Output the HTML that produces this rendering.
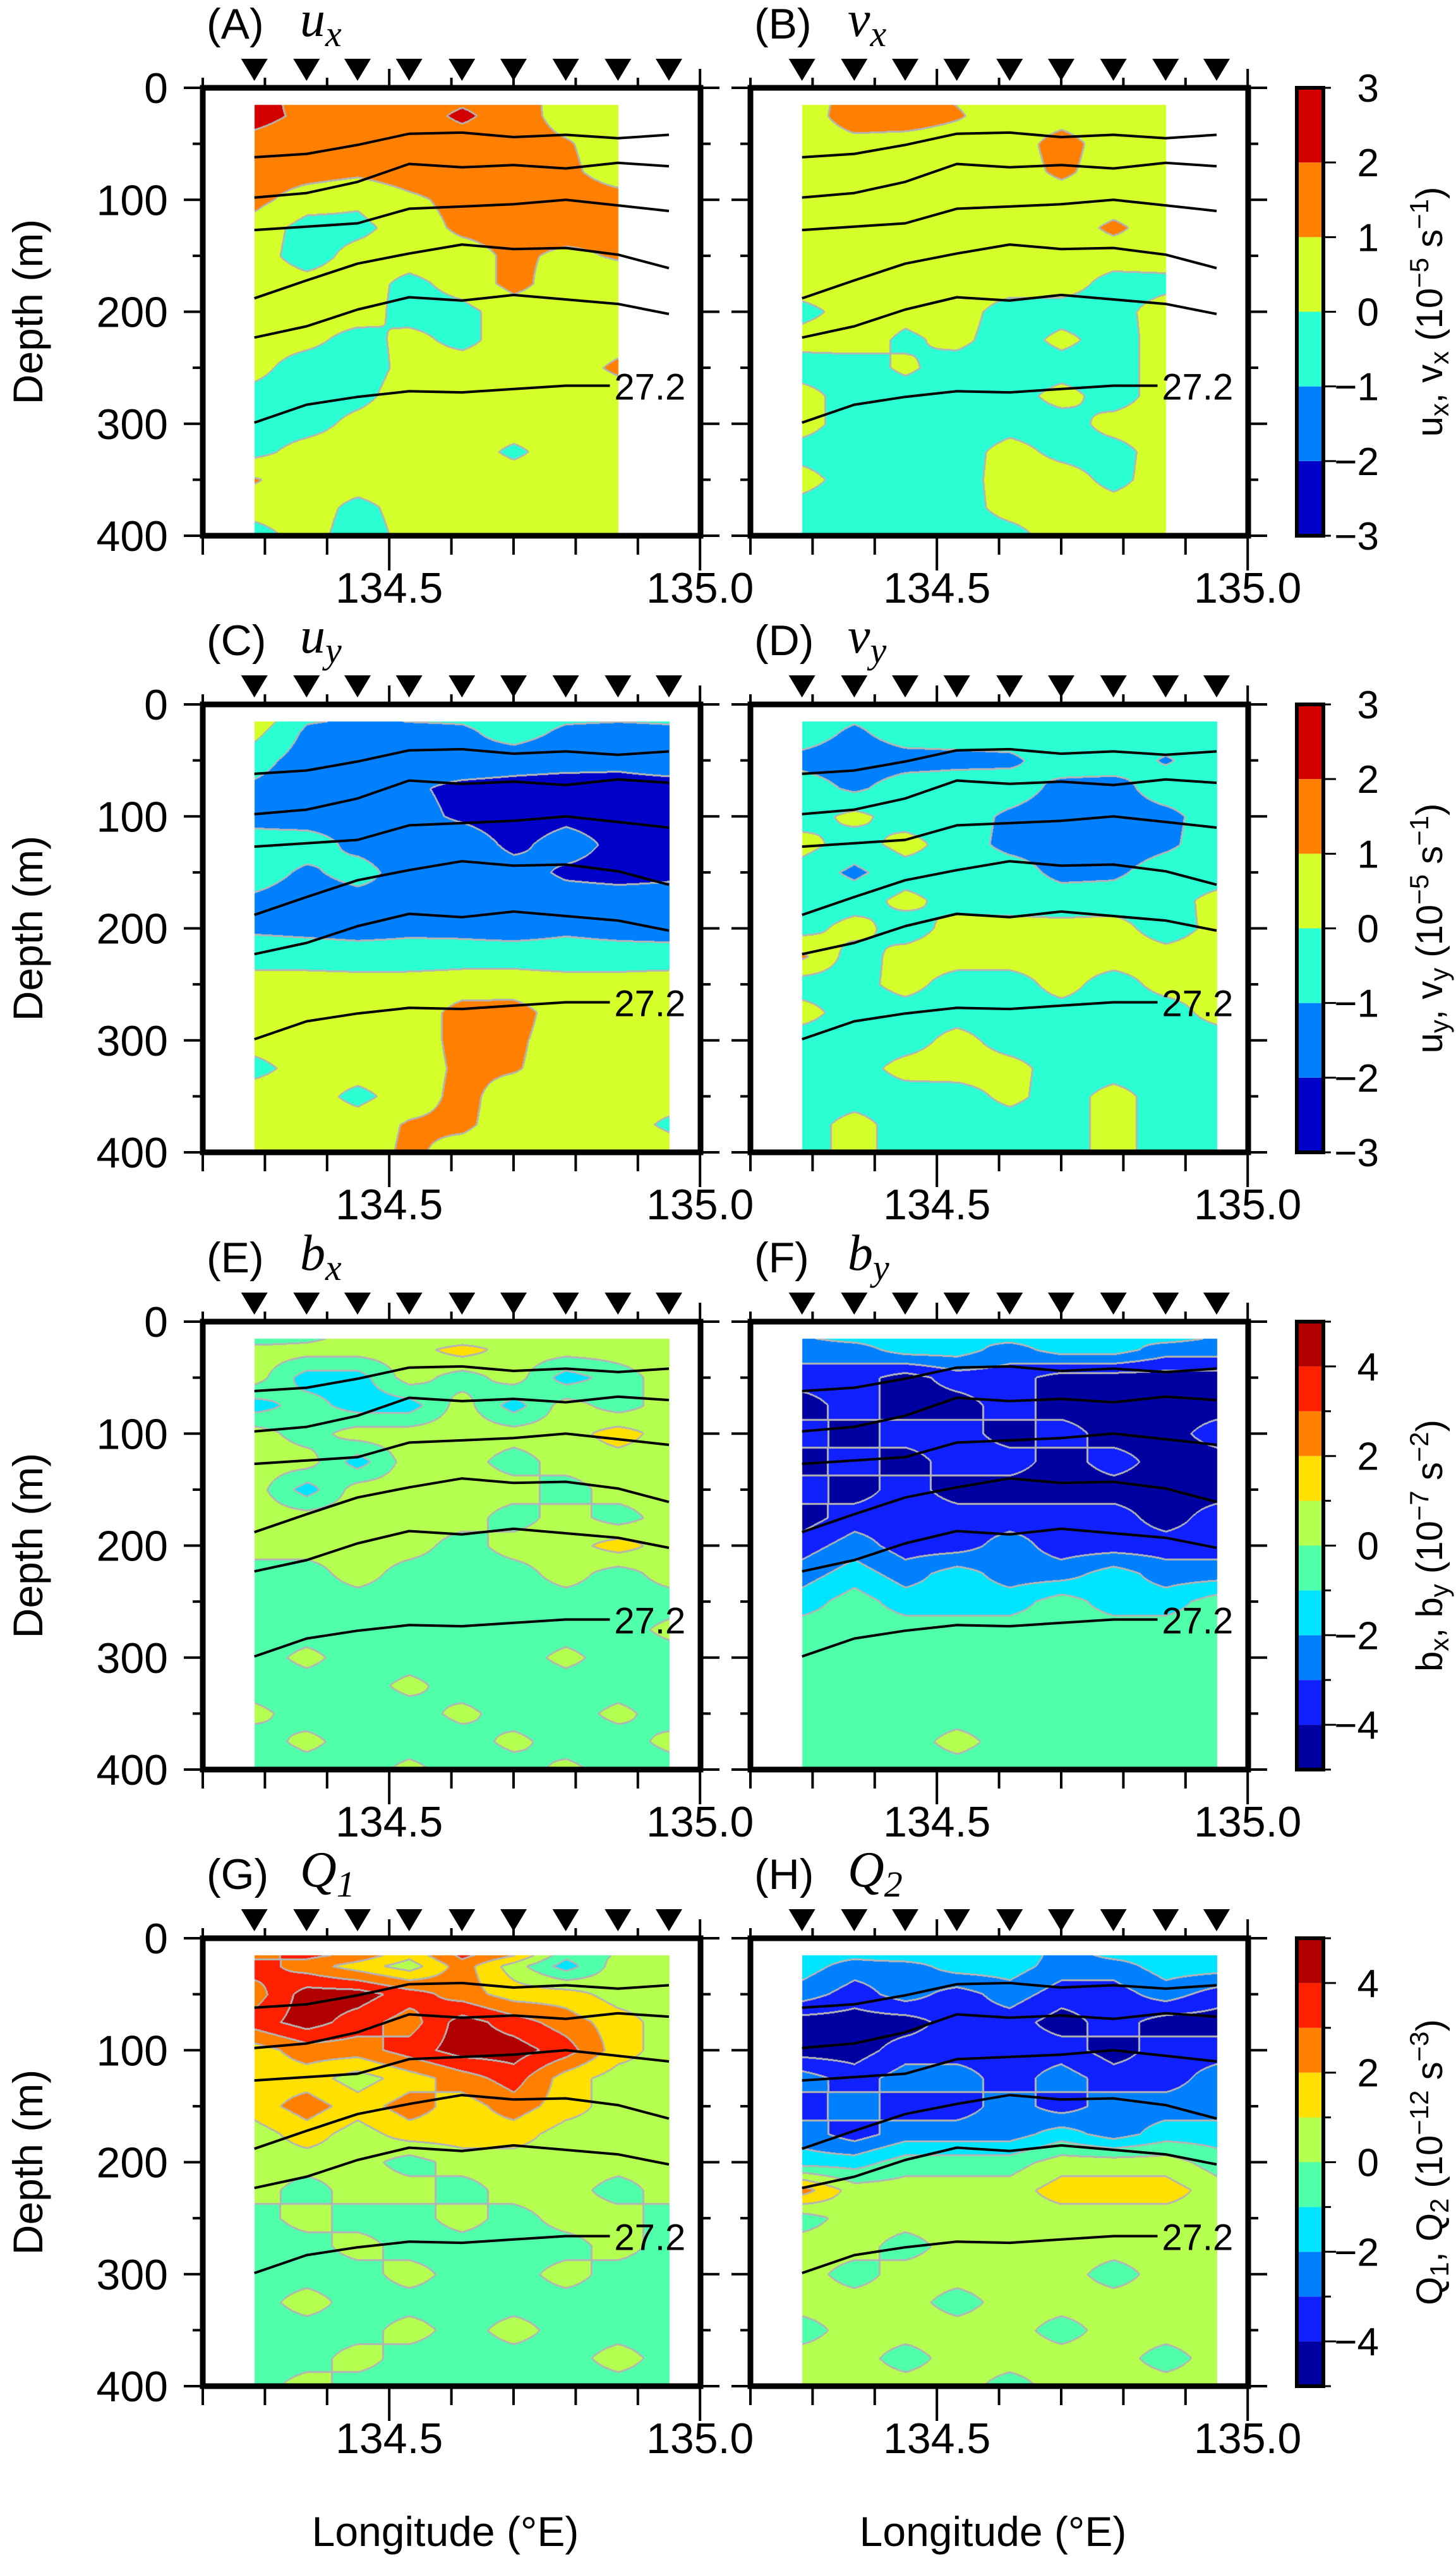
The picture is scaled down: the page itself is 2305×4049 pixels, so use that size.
<!DOCTYPE html>
<html><head><meta charset="utf-8">
<style>
html,body{margin:0;padding:0;background:#fff;}
#wrap{position:relative;width:2305px;height:4049px;overflow:hidden;background:#fff;}
canvas{position:absolute;}
svg{position:absolute;left:0;top:0;}
text{font-family:"Liberation Sans",sans-serif;}
</style></head>
<body>
<div id="wrap">
<svg id="svg" width="2305" height="4049" viewBox="0 0 2305 4049"></svg>
</div>
<script>
// ---------- data ----------
const stationLon = [134.283,134.367,134.449,134.532,134.617,134.700,134.784,134.868,134.950];
const depthLevels = [0,25,50,75,100,125,150,175,200,225,250,275,300,325,350,375,400];
const xTickLabels = ["134.5","135.0"];
const yTickLabels = ["0","100","200","300","400"];
const velTicks = [3,2,1,0,-1,-2,-3];
const bTicks = [4,2,0,-2,-4];
const velColors = ["#0000c8","#0080ff","#2affd4","#d4ff2a","#ff8000","#d40000"];
const bColors = ["#0000a0","#1020ff","#0080ff","#00e5ff","#50ffaa","#b4ff50","#ffe000","#ff8000","#ff2000","#b00000"];
const isoLabel = "27.2";
const iso1 = [62,59,51,41,40,44,42,45,42];
const iso2 = [98,94,84,68,71,69,72,67,70];
const iso3 = [127,124,121,108,106,104,100,105,110];
const iso4 = [188,172,157,148,140,144,143,149,161];
const iso5 = [223,213,198,187,190,185,189,193,202];
const iso6 = [299,283,276,271,272,269,266,266];
const ux = [
[2.5,1.5,1.5,1.5,1.5,1.5,0.5,0.5,0.5],
[2.3,1.8,1.5,1.5,2.2,1.5,0.6,0.5,0.5],
[1.7,1.5,1.5,1.5,1.5,1.4,1.1,0.5,0.5],
[1.5,1.4,1.2,1.5,1.5,1.5,1.2,0.6,0.5],
[1.3,0.5,0.2,0.8,1.3,1.5,1.4,1.3,0.6],
[0.6,-0.4,-0.3,0.5,1.2,1.3,1.4,1.2,0.6],
[0.5,-0.5,0.4,0.5,0.6,1.2,0.8,1.1,0.5],
[0.5,0.4,0.5,-0.3,0.4,1.3,0.5,0.5,0.5],
[0.5,0.5,0.5,-0.4,-0.3,0.5,0.5,0.5,0.5],
[0.4,0.3,-0.4,0.3,-0.3,0.5,0.5,0.6,0.5],
[0.3,-0.5,-0.5,0.3,0.5,0.5,0.5,1.2,0.5],
[-0.3,-0.5,-0.3,0.5,0.5,0.5,0.5,0.5,0.5],
[-0.5,-0.4,0.3,0.5,0.5,0.5,0.5,0.5,0.5],
[-0.3,0.4,0.5,0.5,0.5,-0.2,0.5,0.5,0.5],
[1.1,0.4,0.5,0.5,0.5,0.5,0.5,0.5,0.5],
[0.4,0.5,-0.3,0.4,0.5,0.5,0.5,0.5,0.5],
[-0.4,0.4,-0.5,0.3,0.5,0.5,0.5,0.5,0.5]];
const vx = [
[0.5,1.3,1.4,0.8,0.5,0.5,0.5,0.5,0.5],
[0.5,1.5,1.5,1.1,0.5,0.6,0.5,0.5,0.5],
[0.5,0.7,0.6,0.5,0.5,1.4,0.5,0.5,0.5],
[0.5,0.5,0.5,0.5,0.5,1.2,0.5,0.3,0.5],
[0.5,0.5,0.5,0.5,0.5,0.5,0.5,0.3,0.5],
[0.4,0.5,0.5,0.5,0.5,0.5,1.2,0.5,0.5],
[0.5,0.5,0.5,0.5,0.5,0.5,0.5,0.5,0.5],
[0.5,0.5,0.2,0.5,0.5,0.5,-0.4,-0.3,0.5],
[-0.3,0.4,0.3,0.5,-0.5,-0.5,-0.4,0.5,0.5],
[0.4,0.5,-0.2,0.3,-0.6,0.3,-0.5,0.5,0.5],
[-0.5,-0.5,0.2,-0.5,-0.6,-0.5,-0.5,0.5,0.5],
[0.4,-0.5,-0.5,-0.6,-0.5,0.4,-0.5,0.5,0.5],
[0.4,-0.5,-0.6,-0.6,-0.4,-0.5,0.4,0.5,0.5],
[-0.4,-0.5,-0.5,-0.5,0.4,-0.3,-0.4,0.5,0.5],
[0.4,-0.5,-0.6,-0.5,0.5,0.5,-0.3,0.5,0.5],
[-0.4,-0.6,-0.5,-0.5,0.4,0.5,0.4,0.5,0.5],
[-0.5,-0.6,-0.6,-0.5,-0.4,0.5,0.4,0.5,0.5]];
const uy = [
[1.2,-0.5,-0.5,-0.5,-0.5,-0.5,-0.5,-0.5,-0.5],
[0.3,-1.2,-1.5,-1.3,-1.2,-0.6,-1.2,-1.3,-1.2],
[-0.6,-1.5,-1.5,-1.5,-1.3,-1.5,-1.6,-1.8,-1.6],
[-1.2,-1.5,-1.5,-1.8,-2.3,-2.4,-2.5,-2.3,-2.3],
[-1.3,-1.5,-1.4,-1.6,-2.2,-2.6,-2.3,-2.5,-2.6],
[-0.6,-0.5,-1.3,-1.5,-1.3,-2.3,-1.5,-2.3,-2.4],
[-0.5,-1.2,-0.6,-1.5,-1.4,-1.5,-2.2,-2.4,-2.2],
[-1.2,-1.5,-1.4,-1.2,-1.4,-1.5,-1.5,-1.5,-1.6],
[-1.2,-1.3,-1.4,-1.2,-1.3,-1.5,-1.2,-1.4,-1.5],
[-0.3,-0.4,-0.5,-0.6,-0.5,-0.4,-0.5,-0.5,-0.5],
[0.3,0.4,0.4,0.5,0.6,0.5,0.4,0.4,0.5],
[0.5,0.5,0.5,0.5,1.3,1.4,0.5,0.5,0.5],
[0.4,0.5,0.5,0.5,1.3,1.2,0.5,0.5,0.4],
[-0.3,0.4,0.5,0.5,1.2,1.1,0.5,0.5,0.5],
[0.5,0.5,-0.3,0.5,1.3,0.5,0.5,0.4,0.5],
[0.4,0.4,0.5,1.1,1.2,0.5,0.5,0.5,-0.2],
[0.5,0.5,0.5,1.2,0.6,0.5,0.5,0.5,0.5]];
const vy = [
[-0.5,-0.5,-0.5,-0.5,-0.5,-0.5,-0.5,-0.5,-0.5],
[-0.5,-1.2,-0.5,-0.5,-0.5,-0.5,-0.5,-0.5,-0.4],
[-1.3,-1.5,-1.4,-1.3,-1.2,-0.5,-0.5,-1.1,-0.5],
[-0.5,-1.2,-0.5,-0.4,-0.5,-1.3,-1.4,-0.5,-0.5],
[-0.5,0.3,-0.5,-0.5,-1.2,-1.5,-1.4,-1.3,-0.5],
[0.4,-0.5,0.4,-0.5,-1.3,-1.4,-1.5,-1.2,-0.5],
[-0.5,-1.2,-0.5,-0.5,-0.5,-1.3,-1.2,-0.5,-0.5],
[-0.5,-0.5,0.3,-0.4,-0.5,-0.5,-0.5,-0.4,0.3],
[-0.4,0.4,-0.5,0.4,0.4,0.3,0.4,-0.5,0.3],
[1.2,-0.5,0.4,0.5,0.5,0.4,0.5,0.4,0.5],
[-0.5,-0.4,0.4,-0.5,-0.5,0.4,-0.5,0.4,0.4],
[0.4,-0.5,-0.5,-0.5,-0.5,-0.4,-0.5,-0.5,0.4],
[-0.5,-0.5,-0.5,0.4,-0.5,-0.5,-0.5,-0.4,-0.5],
[-0.5,-0.5,0.4,0.5,0.4,-0.5,-0.5,-0.5,-0.5],
[-0.5,-0.5,-0.5,-0.5,0.3,-0.5,0.4,-0.5,-0.5],
[-0.5,0.4,-0.5,-0.5,-0.5,-0.5,0.4,-0.5,-0.5],
[-0.5,0.4,-0.5,-0.5,-0.5,-0.5,0.4,-0.5,-0.5]];
const bx = [
[-2.5,-1.5,0.5,-0.5,-1.5,0.5,-0.5,0.5,0.5],
[0.5,0.5,0.5,0.5,1.5,0.5,0.5,0.5,0.5],
[0.5,-1.5,-1.5,0.5,-0.5,0.5,-1.5,-0.5,0.5],
[-1.5,-0.5,-1.5,-1.5,0.5,-1.5,0.5,-0.5,0.5],
[0.5,-0.5,0.5,0.5,0.5,0.5,0.5,1.5,0.5],
[0.5,0.5,-1.5,0.5,0.5,-0.5,0.5,0.5,0.5],
[0.5,-1.5,0.5,0.5,0.5,0.5,-0.5,0.5,0.5],
[0.5,0.5,0.5,0.5,0.5,-0.5,0.5,-0.5,0.5],
[0.5,0.5,0.5,0.5,-0.5,0.5,0.5,1.5,0.5],
[-0.5,-0.5,0.5,-0.5,-0.5,-0.5,0.5,-0.5,0.5],
[-0.5,-0.5,-0.5,-0.5,-0.5,-0.5,-0.5,-0.5,-0.5],
[-0.5,-0.5,-0.5,-0.5,-0.5,-0.5,-0.5,-0.5,0.3],
[-0.5,0.3,-0.5,-0.5,-0.5,-0.5,0.3,-0.5,-0.5],
[-0.5,-0.5,-0.5,0.3,-0.5,-0.5,-0.5,-0.5,-0.5],
[0.3,-0.5,-0.5,-0.5,0.3,-0.5,-0.5,0.3,-0.5],
[-0.5,0.3,-0.5,-0.5,-0.5,0.3,-0.5,-0.5,0.3],
[-0.5,-0.5,-0.5,0.3,-0.5,-0.5,0.3,-0.5,-0.5]];
const by = [
[-1.5,-0.5,-1.5,-2.5,-0.5,-1.5,-2.5,-0.5,-1.5],
[-2.5,-2.5,-1.5,-1.5,-2.5,-1.5,-1.5,-2.5,-2.5],
[-3.5,-3.5,-4.5,-3.5,-3.5,-4.5,-4.5,-4.5,-4.5],
[-4.5,-3.5,-4.5,-4.5,-3.5,-4.5,-4.5,-4.5,-4.5],
[-3.5,-4.5,-3.5,-3.5,-4.5,-3.5,-4.5,-4.5,-3.5],
[-4.5,-3.5,-4.5,-3.5,-3.5,-4.5,-3.5,-4.5,-4.5],
[-3.5,-4.5,-3.5,-4.5,-4.5,-4.5,-4.5,-4.5,-4.5],
[-4.5,-3.5,-3.5,-3.5,-3.5,-3.5,-3.5,-4.5,-3.5],
[-3.5,-2.5,-3.5,-3.5,-2.5,-3.5,-3.5,-3.5,-3.5],
[-2.5,-1.5,-2.5,-1.5,-2.5,-2.5,-1.5,-2.5,-2.5],
[-1.5,-0.5,-1.5,-1.5,-1.5,-0.5,-1.5,-1.5,-0.5],
[-0.5,-0.5,-0.5,-0.5,-0.5,-0.5,-0.5,-0.5,-0.5],
[-0.5,-0.5,-0.5,-0.5,-0.5,-0.5,-0.5,-0.5,-0.5],
[-0.5,-0.5,-0.5,-0.5,-0.5,-0.5,-0.5,-0.5,-0.5],
[-0.5,-0.5,-0.5,-0.5,-0.5,-0.5,-0.5,-0.5,-0.5],
[-0.5,-0.5,-0.5,0.4,-0.5,-0.5,-0.5,-0.5,-0.5],
[-0.5,-0.5,-0.5,-0.5,-0.5,-0.5,-0.5,-0.5,-0.5]];
const q1 = [
[1.5,4.5,4.5,2.5,4.5,4.5,0.5,-0.5,0.5],
[3.5,2.5,1.5,0.5,2.5,0.5,-1.5,0.5,0.5],
[2.5,4.5,4.5,3.5,2.5,1.5,1.5,0.5,0.5],
[3.5,4.5,3.5,2.5,4.5,3.5,2.5,1.5,0.5],
[1.5,2.5,2.5,3.5,4.5,4.5,3.5,1.5,0.5],
[1.5,1.5,0.5,1.5,2.5,3.5,1.5,0.5,0.5],
[1.5,2.5,1.5,2.5,1.5,2.5,1.5,0.5,0.5],
[0.5,1.5,0.5,1.5,1.5,1.5,0.5,0.5,0.5],
[0.5,0.5,0.5,-0.5,0.5,0.5,0.5,0.5,0.5],
[0.5,-0.5,0.5,0.5,-0.5,0.5,0.5,-0.5,0.5],
[-0.5,0.5,-0.5,-0.5,0.5,-0.5,0.5,0.5,-0.5],
[-0.5,-0.5,0.5,-0.5,-0.5,-0.5,-0.5,0.5,-0.5],
[-0.5,-0.5,-0.5,0.5,-0.5,-0.5,0.5,-0.5,-0.5],
[-0.5,0.5,-0.5,-0.5,-0.5,-0.5,-0.5,-0.5,-0.5],
[-0.5,-0.5,-0.5,0.5,-0.5,0.5,-0.5,-0.5,-0.5],
[-0.5,-0.5,0.5,-0.5,-0.5,-0.5,-0.5,0.5,-0.5],
[-0.5,0.5,-0.5,-0.5,-0.5,-0.5,-0.5,-0.5,-0.5]];
const q2 = [
[-1.5,-0.5,0.5,-1.5,-0.5,-2.5,-0.5,-1.5,-0.5],
[-1.5,-2.5,-2.5,-1.5,-1.5,-2.5,-2.5,-1.5,-1.5],
[-2.5,-3.5,-2.5,-3.5,-2.5,-3.5,-3.5,-2.5,-3.5],
[-4.5,-4.5,-4.5,-3.5,-3.5,-4.5,-3.5,-4.5,-4.5],
[-4.5,-4.5,-3.5,-3.5,-3.5,-3.5,-4.5,-3.5,-3.5],
[-2.5,-3.5,-2.5,-2.5,-3.5,-2.5,-3.5,-3.5,-2.5],
[-3.5,-2.5,-3.5,-3.5,-2.5,-3.5,-2.5,-2.5,-2.5],
[-2.5,-3.5,-2.5,-2.5,-2.5,-1.5,-2.5,-1.5,-1.5],
[-1.5,-1.5,-0.5,-0.5,-0.5,0.5,0.5,0.5,-0.5],
[2.5,0.5,0.5,0.5,0.5,1.5,1.5,1.5,0.5],
[-0.5,0.5,0.5,0.5,0.5,0.5,0.5,0.5,0.5],
[0.5,0.5,-0.5,0.5,0.5,0.5,0.5,0.5,0.5],
[0.5,-0.5,0.5,0.5,0.5,0.5,-0.5,0.5,0.5],
[0.5,0.5,0.5,-0.5,0.5,0.5,0.5,0.5,0.5],
[-0.5,0.5,0.5,0.5,0.5,-0.5,0.5,0.5,0.5],
[0.5,0.5,-0.5,0.5,0.5,0.5,0.5,-0.5,0.5],
[0.5,0.5,0.5,0.5,-0.5,0.5,0.5,0.5,0.5]];

// ---------- layout ----------
const NS = "http://www.w3.org/2000/svg";
const svg = document.getElementById('svg');
const wrap = document.getElementById('wrap');
const rowTops = [139,1115,2092,3068];
const colLefts = [321,1188];
const FW = 788, FH = 709;
const LON0 = 134.2, PXDEG = 984, PXM = FH/400;
function xs(lon, left){ return left + (lon-LON0)*PXDEG; }
function ys(d, top){ return top + d*PXM; }
function el(tag, attrs, parent){
  const e = document.createElementNS(NS, tag);
  for (const k in attrs) e.setAttribute(k, attrs[k]);
  (parent||svg).appendChild(e); return e;
}
const panels = [
 {id:'A', v:'u', s:'x', field:ux, last:8, row:0, col:0},
 {id:'B', v:'v', s:'x', field:vx, last:8, row:0, col:1},
 {id:'C', v:'u', s:'y', field:uy, last:9, row:1, col:0},
 {id:'D', v:'v', s:'y', field:vy, last:9, row:1, col:1},
 {id:'E', v:'b', s:'x', field:bx, last:9, row:2, col:0},
 {id:'F', v:'b', s:'y', field:by, last:9, row:2, col:1},
 {id:'G', v:'Q', s:'1', field:q1, last:9, row:3, col:0},
 {id:'H', v:'Q', s:'2', field:q2, last:9, row:3, col:1}];
const isos = [iso1,iso2,iso3,iso4,iso5,iso6];

function interp(field, lon, d){
  let i = 0;
  while (i < stationLon.length-2 && lon > stationLon[i+1]) i++;
  let fx = (lon-stationLon[i])/(stationLon[i+1]-stationLon[i]);
  fx = Math.max(0, Math.min(1, fx));
  let j = Math.min(depthLevels.length-2, Math.floor(d/25));
  let fy = (d-depthLevels[j])/(depthLevels[j+1]-depthLevels[j]);
  fy = Math.max(0, Math.min(1, fy));
  const a=field[j][i], b=field[j][i+1], c=field[j+1][i], e=field[j+1][i+1];
  return (a*(1-fx)+b*fx)*(1-fy) + (c*(1-fx)+e*fx)*fy;
}
function hex(c){ return [parseInt(c.slice(1,3),16),parseInt(c.slice(3,5),16),parseInt(c.slice(5,7),16)]; }

panels.forEach(p => {
  const top = rowTops[p.row], left = colLefts[p.col];
  const isVel = p.row < 2;
  const colors = (isVel ? velColors : bColors).map(hex);
  const vmin = isVel ? -3 : -5;
  const cv = document.createElement('canvas');
  cv.width = FW; cv.height = FH;
  cv.style.left = left+'px'; cv.style.top = top+'px';
  
  
  wrap.insertBefore(cv, svg);
  const ctx = cv.getContext('2d');
  const img = ctx.createImageData(FW, FH);
  const cls = new Int16Array(FW*FH).fill(-1);
  const lonMax = stationLon[p.last-1];
  for (let py=0; py<FH; py++){
    const d = py/PXM; if (d < 15) continue;
    for (let px=0; px<FW; px++){
      const lon = LON0 + px/PXDEG;
      if (lon < stationLon[0] || lon > lonMax) continue;
      const v = interp(p.field, lon, d);
      let k = Math.floor(v - vmin); k = Math.max(0, Math.min(colors.length-1, k));
      cls[py*FW+px] = k;
    }
  }
  for (let py=0; py<FH; py++){
    for (let px=0; px<FW; px++){
      const k = cls[py*FW+px]; if (k < 0) continue;
      let edge = false;
      for (const [dx,dy] of [[1,0],[-1,0],[0,1],[0,-1],[2,0],[0,2]]){
        const nx=px+dx, ny=py+dy;
        if (nx<0||ny<0||nx>=FW||ny>=FH) continue;
        const n = cls[ny*FW+nx];
        if (n >= 0 && n !== k) { edge = true; break; }
      }
      const o = (py*FW+px)*4;
      const c = edge ? [180,180,180] : colors[k];
      img.data[o]=c[0]; img.data[o+1]=c[1]; img.data[o+2]=c[2]; img.data[o+3]=255;
    }
  }
  ctx.putImageData(img, 0, 0);

  const g = el('g', {});
  
  

  isos.forEach((arr, n) => {
    let pts = arr.map((d,i) => {
      let lon = stationLon[i];
      if (n === 5 && i === arr.length-1) lon = 134.855;
      return xs(lon,left).toFixed(1)+','+ys(d,top).toFixed(1);
    }).join(' ');
    const pl = el('polyline', {points:pts, fill:'none', stroke:'#000', 'stroke-width':4, 'stroke-linejoin':'round'}, g);
    
    
  });
  const lt = el('text', {x:xs(134.862,left), y:ys(iso6[7],top)+22, 'font-size':58}, g);
  lt.textContent = isoLabel;
  
  

  const fr = el('rect', {x:left, y:top, width:FW, height:FH, fill:'none', stroke:'#000', 'stroke-width':9}, g);
  
  

  for (let t=0; t<=8; t++){
    const lon = LON0 + t*0.1;
    const x = xs(lon,left);
    const major = (t===3 || t===8);
    const L = major ? 55 : 30;
    el('line', {x1:x, y1:top+FH, x2:x, y2:top+FH+L, stroke:'#000', 'stroke-width':4}, g);
    el('line', {x1:x, y1:top, x2:x, y2:top-(major?30:16), stroke:'#000', 'stroke-width':4}, g);
  }
  xTickLabels.forEach(lbl => {
    const t = el('text', {x:xs(parseFloat(lbl),left), y:top+FH+106, 'font-size':68, 'text-anchor':'middle'}, g);
    t.textContent = lbl;
    
    
  });
  for (let d=0; d<=400; d+=50){
    const y = ys(d,top); const major = d%100===0;
    el('line', {x1:left, y1:y, x2:left-(major?30:16), y2:y, stroke:'#000', 'stroke-width':4}, g);
    el('line', {x1:left+FW, y1:y, x2:left+FW+(major?30:16), y2:y, stroke:'#000', 'stroke-width':4}, g);
  }
  if (p.col === 0){
    yTickLabels.forEach(lbl => {
      const t = el('text', {x:left-55, y:ys(+lbl,top)+24, 'font-size':68, 'text-anchor':'end'}, g);
      t.textContent = lbl;
      
      
    });
    const yt = el('text', {x:45, y:top+FH/2, 'font-size':66, 'text-anchor':'middle', transform:'rotate(-90 45 '+(top+FH/2)+')', dy:'22'}, g);
    yt.textContent = 'Depth (m)';
    
    
  }
  stationLon.forEach(lon => {
    const x = xs(lon,left);
    const tr = el('polygon', {points:(x-21)+','+(top-46)+' '+(x+21)+','+(top-46)+' '+x+','+(top-11), fill:'#000'}, g);
    
    
  });
  const tt = el('text', {x:left+6, y:top-78, 'font-size':68}, g);
  tt.textContent = '('+p.id+')';
  
  
  const vt = el('text', {x:left+154, y:top-82, 'font-size':80, 'font-style':'italic', style:'font-family:"Liberation Serif",serif'}, g);
  vt.innerHTML = p.v + '<tspan dy="16" font-size="58">'+p.s+'</tspan>';
  
  
  if (p.row === 3){
    const xt = el('text', {x:left+FW/2-10, y:4030, 'font-size':66, 'text-anchor':'middle'}, g);
    xt.textContent = 'Longitude (°E)';
    
    
  }
});

const cbNames = [['u','v','x','−5','−1'],['u','v','y','−5','−1'],['b','b',null,'−7','−2'],['Q','Q',null,'−12','−3']];
rowTops.forEach((top, r) => {
  const isVel = r < 2;
  const colors = isVel ? velColors : bColors;
  const vmin = isVel ? -3 : -5, vmax = isVel ? 3 : 5;
  const cbx = 2053, cbw = 42;
  const cy = v => top + (vmax - v) / (vmax - vmin) * FH;
  const g = el('g', {});
  
  
  colors.forEach((c,i) => {
    el('rect', {x:cbx, y:cy(vmin+i+1), width:cbw, height:cy(vmin+i)-cy(vmin+i+1), fill:c}, g);
  });
  el('rect', {x:cbx, y:top, width:cbw, height:FH, fill:'none', stroke:'#000', 'stroke-width':6}, g);
  for (let v=vmin; v<=vmax; v++){
    const labeled = isVel || v%2===0;
    el('line', {x1:cbx+cbw, y1:cy(v), x2:cbx+cbw+(labeled && v!==vmin && v!==vmax ?20:12), y2:cy(v), stroke:'#000','stroke-width':3}, g);
  }
  (isVel ? velTicks : bTicks).forEach(v => {
    const t = el('text', {x:2183, y:cy(v)+22, 'font-size':62, 'text-anchor':'end'}, g);
    t.textContent = v < 0 ? '−'+(-v) : String(v);
    
    
  });
  const n = cbNames[r];
  const cx = 2263, cyy = top + FH/2;
  const lab = el('text', {x:cx, y:cyy, 'font-size':58, 'text-anchor':'middle', transform:'rotate(-90 '+cx+' '+cyy+')', dy:'20'}, g);
  let s1, s2;
  if (r===0){s1='x';s2='x';} else if (r===1){s1='y';s2='y';} else if (r===2){s1='x';s2='y';} else {s1='1';s2='2';}
  lab.innerHTML = n[0]+'<tspan dy="10" font-size="42">'+s1+'</tspan><tspan dy="-10">, '+n[1]+'</tspan><tspan dy="10" font-size="42">'+s2+'</tspan><tspan dy="-10"> (10</tspan><tspan dy="-22" font-size="42">'+n[3]+'</tspan><tspan dy="22"> s</tspan><tspan dy="-22" font-size="42">'+n[4]+'</tspan><tspan dy="22">)</tspan>';
  
  
});
</script>
</body></html>
